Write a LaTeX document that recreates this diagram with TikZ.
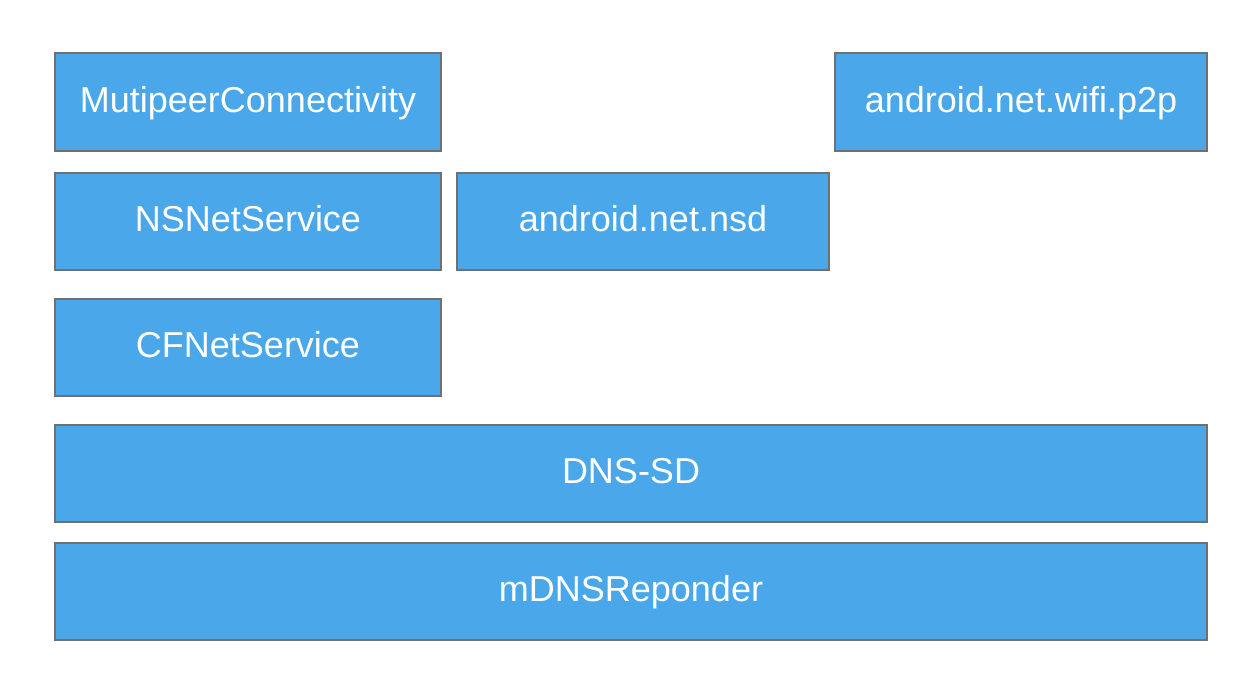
\documentclass[tikz,border=0pt]{standalone}
\usepackage{fontspec}
\setmainfont{Liberation Sans}
\definecolor{boxfill}{HTML}{4AA7EA}
\definecolor{boxline}{HTML}{707070}
\begin{document}
\begin{tikzpicture}[x=1pt,y=-1pt,
  layer/.style={draw=boxline,line width=2pt,fill=boxfill},
  layertext/.style={text=white,anchor=base,inner sep=0pt,
    font=\fontsize{36}{40}\selectfont}]
\useasboundingbox (0,0) rectangle (1242,694);
\fill[white] (0,0) rectangle (1242,694);
\newcommand\layerbox[6]{%
  \draw[layer] (#2,#3) rectangle (#4,#5);
  \node[layertext] (#1) at ({(#2+#4)/2},{(#3+#5)/2+10}) {#6};}
\layerbox{mpc}{55}{53}{441}{151}{MutipeerConnectivity}
\layerbox{wifi}{835}{53}{1207}{151}{android.net.wifi.p2p}
\layerbox{nsn}{55}{173}{441}{270}{NSNetService}
\layerbox{nsd}{457}{173}{829}{270}{android.net.nsd}
\layerbox{cfn}{55}{299}{441}{396}{CFNetService}
\layerbox{dnssd}{55}{425}{1207}{522}{DNS-SD}
\layerbox{mdns}{55}{543}{1207}{640}{mDNSReponder}
\end{tikzpicture}
\end{document}
